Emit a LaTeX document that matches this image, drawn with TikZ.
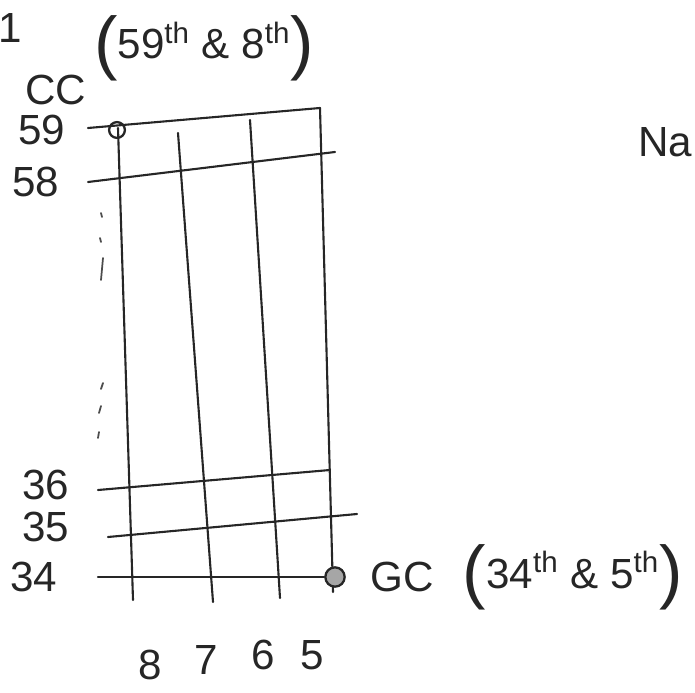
\documentclass[tikz,border=0pt]{standalone}
\usepackage{fontspec}
\setmainfont{Liberation Sans}
\usetikzlibrary{positioning}
\newcommand{\bigparen}[1]{\raisebox{-4pt}{\fontsize{40}{40}\selectfont #1}}

\begin{document}
\begin{tikzpicture}[
  x=0.02cm, y=-0.02cm,
  pen/.style={line width=1.2pt, draw=black!85, line cap=round},
  lbl/.style={font=\fontsize{24}{26}\selectfont, text=black!85, inner sep=0pt},
  corner/.style={circle, draw=black!85, line width=1.3pt, inner sep=0pt},
  tick/.style={line width=1pt, draw=black!70, line cap=round}
]
\clip (0,0) rectangle (695,692);

% streets (horizontal) and avenues (vertical)
\draw[pen] (88,128) -- (320,108);
\draw[pen] (88,182) -- (335,152);
\draw[pen] (98,490) -- (330,470);
\draw[pen] (108,537) -- (357,514);
\draw[pen] (118,128) -- (133,600);
\draw[pen] (178,133) -- (213,602);
\draw[pen] (250,120) -- (280,598);
\draw[pen] (320,108) -- (333,592);

\node[corner, minimum size=9pt] (cc) at (117,130) {};
\node[corner, minimum size=11pt, fill=black!35] (gc) at (335,577) {};
\coordinate (w34) at (98,577);
\draw[pen] (w34) -- (gc);

% dots between 58 and 36
\draw[tick] (101,213) -- (102,217);
\draw[tick] (100,238) -- (101,242);
\draw[tick] (103,258) -- (101,280);
\draw[tick] (103,383) -- (101,389);
\draw[tick] (101,406) -- (99,413);
\draw[tick] (99,432) -- (98,438);

% labels
\node[lbl] (one) at (10,28) {1};
\node[lbl] (cclbl) at (56,90) {CC};
\node[lbl, right=4pt of cclbl, yshift=24pt] (ccnote) {\bigparen{(}59\textsuperscript{th} \& 8\textsuperscript{th}\bigparen{)}};
\node[lbl] (s59) at (42,130) {59};
\node[lbl] (s58) at (36,182) {58};
\node[lbl] (s36) at (46,485) {36};
\node[lbl] (s35) at (46,527) {35};
\node[lbl] (s34) at (34,577) {34};
\node[lbl, right=14pt of gc] (gclbl) {GC};
\node[lbl, right=16pt of gclbl] (gcnote) {\bigparen{(}34\textsuperscript{th} \& 5\textsuperscript{th}\bigparen{)}};
\node[lbl] (a8) at (150,665) {8};
\node[lbl] (a7) at (206,660) {7};
\node[lbl] (a6) at (263,655) {6};
\node[lbl] (a5) at (312,655) {5};
\node[lbl, anchor=west] (note) at (638,142) {Na};
\end{tikzpicture}
\end{document}
